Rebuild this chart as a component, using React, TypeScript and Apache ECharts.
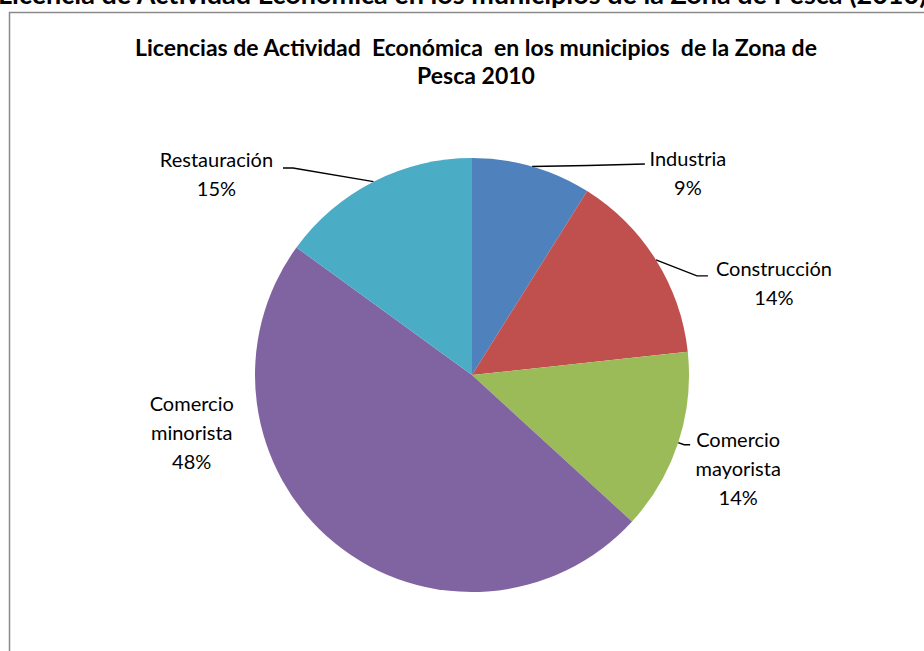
import React, { useEffect, useRef } from "react";
import * as echarts from "echarts";

const categories = ["Industria", "Construcción", "Comercio\nmayorista", "Comercio\nminorista", "Restauración"];
const shares = [8.9, 14.4, 13.5, 48.2, 15.0];
const colors = ["#4F81BD", "#C0504D", "#9BBB59", "#8064A2", "#4BACC6"];
const chartTitle = "Licencias de Actividad  Económica  en los municipios  de la Zona de\nPesca 2010";
const pageHeading = "Licencia de Actividad Económica en los municipios de la Zona de Pesca (2010)";

// label centre offsets relative to the leader-line anchor on the slice edge
const labelOffsets: number[][] = [[156, 6], [118, 23], [60, 25], [-143, -111], [-157, -8]];
// leader-line bends relative to the anchor
const lineBends: (number[][] | null)[] = [
  [[56, -1], [113, -2.5]],
  [[41, 16], [52, 16]],
  [[6, 2], [12, 2]],
  null,
  [[-80.5, -13.7], [-90.5, -13.7]],
];

const FONT = "Lato, 'Open Sans', sans-serif";

export default function App() {
  const ref = useRef<HTMLDivElement>(null);
  useEffect(() => {
    document.body.style.margin = "0";
    if (!ref.current) return;
    const chart = echarts.init(ref.current, null, { renderer: "svg" });
    chart.setOption({
      animation: false,
      backgroundColor: "#ffffff",
      title: {
        text: chartTitle,
        left: 471,
        top: 28,
        textAlign: "center",
        textStyle: { fontFamily: FONT, fontSize: 23, fontWeight: "bold", color: "#000", lineHeight: 28 },
      },
      graphic: [
        {
          type: "text",
          left: -2,
          top: -20,
          style: { text: pageHeading, fontFamily: FONT, fontSize: 27, fontWeight: "bold", fill: "#000" },
        },
        {
          type: "rect",
          shape: { x: 9.5, y: 12.5, width: 1000, height: 1000 },
          style: { fill: "none", stroke: "#8a8a8a", lineWidth: 1.5 },
          silent: true,
        },
      ],
      series: [
        {
          type: "pie",
          center: [472, 375],
          radius: 217,
          startAngle: 90,
          clockwise: true,
          percentPrecision: 0,
          avoidLabelOverlap: false,
          itemStyle: { borderWidth: 0 },
          label: {
            show: true,
            position: "outside",
            formatter: "{b}\n{d}%",
            fontFamily: FONT,
            fontSize: 20,
            color: "#000",
            lineHeight: 29,
          },
          labelLine: { show: true, length: 5, length2: 20, lineStyle: { color: "#000", width: 1.4 } },
          labelLayout: (params: any) => {
            const i = params.dataIndex;
            const pts = params.labelLinePoints;
            if (!pts || !pts.length) return {};
            const p0 = pts[0];
            const off = labelOffsets[i];
            const bend = lineBends[i];
            const res: any = {
              x: p0[0] + off[0],
              y: p0[1] + off[1],
              align: "center",
              verticalAlign: "middle",
            };
            if (bend) {
              res.labelLinePoints = [
                [p0[0], p0[1]],
                [p0[0] + bend[0][0], p0[1] + bend[0][1]],
                [p0[0] + bend[1][0], p0[1] + bend[1][1]],
              ];
            } else {
              res.labelLinePoints = [[p0[0], p0[1]], [p0[0], p0[1]], [p0[0], p0[1]]];
            }
            return res;
          },
          data: categories.map((name, i) => ({
            name,
            value: shares[i],
            itemStyle: { color: colors[i] },
            labelLine: lineBends[i] ? undefined : { lineStyle: { opacity: 0 } },
          })),
        },
      ],
    });
    return () => chart.dispose();
  }, []);
  return <div ref={ref} style={{ width: 924, height: 651 }} />;
}
